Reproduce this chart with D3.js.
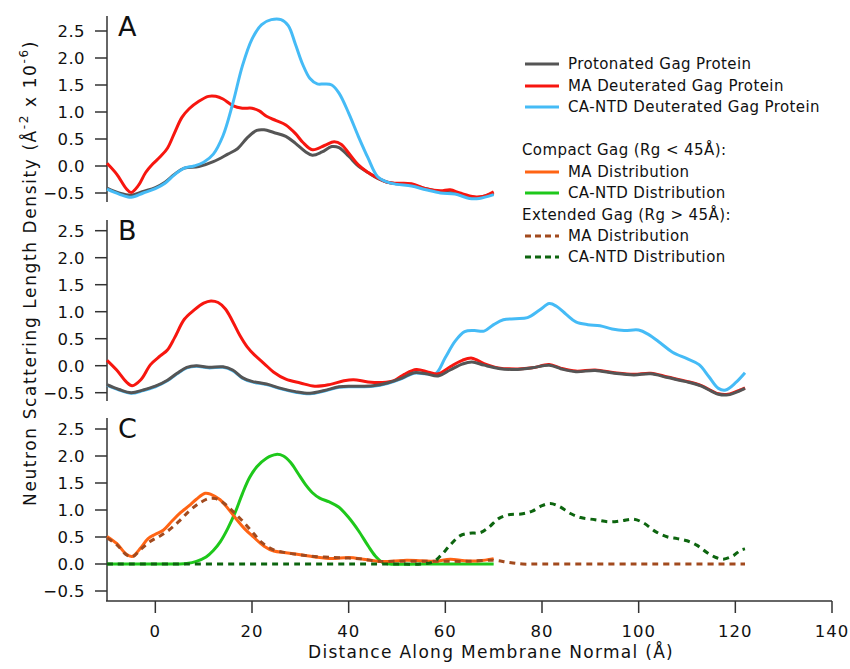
<!DOCTYPE html>
<html>
<head>
<meta charset="utf-8">
<script src="https://cdn.jsdelivr.net/npm/d3@7"></script>
<style>
  body { margin: 0; background: #fff; }
  text { font-family: "DejaVu Sans", sans-serif; fill: #111; }
</style>
</head>
<body>
<div id="chart"></div>
<script>
// values: [distance (Å), SLD (Å^-2 x 10^-6)]
var protA = [[-10,-0.41],[-7.5,-0.50],[-5,-0.54],[-2.5,-0.47],[0,-0.40],[2,-0.30],[4,-0.15],[6,-0.04],[9,-0.01],[12,0.08],[15,0.22],[17,0.32],[19,0.52],[21,0.66],[22.5,0.67],[24.5,0.62],[27,0.55],[29,0.42],[31,0.27],[32.5,0.20],[34.5,0.26],[36.5,0.36],[38,0.34],[40,0.18],[42,0.0],[44,-0.12],[46,-0.23],[48,-0.30],[50,-0.33],[53,-0.35],[56,-0.42],[59,-0.48],[62,-0.50],[65,-0.57],[67,-0.58],[70,-0.50]];
var maA = [[-10,0.05],[-8,-0.15],[-6,-0.42],[-5,-0.49],[-3.5,-0.36],[-2,-0.12],[-0.5,0.04],[1,0.17],[2.5,0.33],[4,0.62],[5.5,0.90],[7,1.06],[9,1.20],[11,1.29],[12.5,1.29],[14,1.24],[16,1.12],[18,1.07],[20,1.07],[21.5,1.02],[23,0.92],[25,0.84],[27,0.76],[29,0.60],[30.5,0.44],[32.5,0.30],[35,0.38],[37,0.45],[38.5,0.40],[40,0.24],[42,0.02],[44,-0.12],[46,-0.22],[48,-0.30],[50,-0.32],[53,-0.33],[56,-0.42],[59,-0.46],[61,-0.44],[63,-0.50],[66,-0.57],[68,-0.56],[70,-0.48]];
var caA = [[-10,-0.43],[-7.5,-0.52],[-5,-0.58],[-2.5,-0.50],[0,-0.42],[2,-0.32],[4,-0.16],[6,-0.04],[8,0.0],[10,0.07],[12,0.22],[14,0.56],[16,1.15],[18,1.85],[20,2.35],[22,2.62],[24,2.71],[26,2.71],[27.5,2.60],[29,2.25],[30.5,1.88],[32,1.62],[33.5,1.52],[35,1.52],[36.5,1.50],[38,1.35],[40,0.98],[42,0.55],[44,0.15],[46,-0.20],[48,-0.30],[50,-0.34],[53,-0.37],[56,-0.44],[59,-0.50],[62,-0.52],[65,-0.60],[67,-0.60],[70,-0.53]];

var protB = [[-10,-0.35],[-7.5,-0.44],[-5,-0.50],[-2.5,-0.45],[0,-0.38],[2.5,-0.27],[4.5,-0.14],[6.5,-0.03],[8.5,0.0],[11,-0.03],[14,-0.02],[16,-0.08],[18,-0.22],[20,-0.29],[23,-0.34],[26,-0.42],[29,-0.48],[32,-0.51],[35,-0.46],[38,-0.39],[41,-0.38],[45,-0.37],[48,-0.32],[51,-0.23],[53.5,-0.13],[56,-0.15],[58.5,-0.19],[61,-0.08],[63.5,0.03],[65.5,0.07],[68,0.01],[71,-0.05],[75,-0.07],[78,-0.04],[81.5,0.01],[84,-0.06],[87,-0.11],[91,-0.09],[95,-0.14],[99,-0.17],[102.5,-0.15],[106,-0.22],[110,-0.30],[113,-0.38],[116.5,-0.53],[118.5,-0.54],[121,-0.46],[122,-0.42]];
var maB = [[-10,0.10],[-8,-0.08],[-6,-0.30],[-4.8,-0.37],[-3,-0.26],[-1,0.02],[1,0.18],[2.5,0.29],[4,0.52],[6,0.86],[8,1.03],[10,1.16],[11.5,1.20],[13,1.17],[14.5,1.05],[16,0.82],[17.5,0.56],[19,0.35],[20.5,0.20],[22.5,0.04],[24.5,-0.12],[27,-0.25],[30,-0.32],[33,-0.38],[36,-0.35],[39,-0.28],[41,-0.26],[44,-0.30],[47,-0.31],[49.5,-0.27],[51.5,-0.16],[54,-0.07],[56.5,-0.12],[58.5,-0.15],[61,-0.02],[63.5,0.10],[65.5,0.14],[68,0.04],[71,-0.04],[75,-0.06],[78,-0.04],[81.5,0.02],[84,-0.05],[87,-0.10],[91,-0.08],[95,-0.13],[99,-0.16],[102.5,-0.14],[106,-0.21],[110,-0.29],[113,-0.37],[116.5,-0.52],[118.5,-0.53],[121,-0.45],[122,-0.41]];
var caB = [[-10,-0.36],[-7.5,-0.45],[-5,-0.51],[-2.5,-0.46],[0,-0.39],[2.5,-0.28],[4.5,-0.15],[6.5,-0.04],[8.5,-0.01],[11,-0.04],[14,-0.03],[16,-0.09],[18,-0.23],[20,-0.30],[23,-0.35],[26,-0.43],[29,-0.49],[32,-0.52],[35,-0.47],[38,-0.40],[41,-0.39],[45,-0.38],[48,-0.33],[51,-0.24],[53.5,-0.14],[56,-0.15],[58,-0.15],[60,0.15],[62,0.45],[64,0.63],[66,0.65],[68,0.64],[70,0.76],[72,0.85],[74.5,0.87],[77,0.89],[79.5,1.03],[81.5,1.15],[83,1.10],[85,0.95],[87,0.81],[89.5,0.76],[92,0.74],[94.5,0.68],[97,0.65],[100,0.66],[102,0.58],[104.5,0.42],[107,0.25],[110,0.13],[112.5,0.02],[114.5,-0.20],[116.5,-0.42],[118,-0.45],[120,-0.32],[122,-0.13]];

var maCompact = [[-10,0.51],[-8,0.38],[-6,0.18],[-4.8,0.14],[-3,0.30],[-1.5,0.47],[0,0.55],[1.7,0.63],[3.5,0.80],[5.2,0.95],[7,1.08],[8.5,1.20],[10.3,1.31],[11.5,1.29],[13.4,1.19],[15,1.03],[16.5,0.86],[18.5,0.65],[20.3,0.50],[22.5,0.33],[24.5,0.24],[27,0.21],[30,0.17],[33,0.13],[36.5,0.10],[40,0.12],[43,0.09],[46,0.05],[49,0.05],[52,0.07],[55,0.06],[58,0.05],[61,0.09],[64,0.06],[67,0.06],[70,0.10]];
var caCompact = [[-10,0],[0,0],[5,0],[6.5,0.01],[8.5,0.05],[10.5,0.13],[12,0.25],[13.5,0.42],[15,0.66],[16.5,0.95],[18,1.30],[19.5,1.60],[21,1.80],[23,1.96],[25,2.03],[26.5,2.00],[28,1.88],[29.5,1.68],[31,1.48],[32.5,1.32],[34,1.22],[36,1.15],[38,1.05],[40,0.86],[42,0.62],[44,0.34],[45.5,0.15],[47,0.03],[48.5,0],[55,0],[70,0]];
var maExtended = [[-10,0.48],[-8,0.36],[-6,0.17],[-4.8,0.13],[-3,0.27],[-1,0.42],[1,0.52],[3,0.64],[5,0.80],[7,0.98],[9,1.12],[11,1.21],[12.5,1.21],[14,1.14],[16,0.98],[18,0.80],[20,0.60],[22,0.40],[24.5,0.26],[27,0.21],[30,0.17],[33,0.14],[37,0.12],[40,0.11],[43,0.09],[46,0.05],[50,0.05],[55,0.05],[60,0.05],[65,0.05],[70,0.07],[73,0.03],[76,0.0],[80,0],[100,0],[122,0]];
var caExtended = [[-10,0],[30,0],[50,0],[55,0],[57.5,0.04],[59,0.15],[61,0.35],[63,0.52],[65,0.57],[67.2,0.58],[69,0.68],[71,0.84],[73,0.91],[76,0.93],[78,0.98],[80,1.08],[81.7,1.12],[83.5,1.07],[86,0.93],[88,0.86],[91,0.82],[94,0.78],[96.5,0.80],[99,0.83],[101,0.76],[103.5,0.60],[106,0.50],[108,0.47],[110,0.43],[112,0.35],[114,0.22],[116,0.12],[117.5,0.09],[119.5,0.15],[121,0.25],[122,0.28]];

var xTicks = [0, 20, 40, 60, 80, 100, 120, 140];
var yTicks = [-0.5, 0.0, 0.5, 1.0, 1.5, 2.0, 2.5];
var panelLabels = ["A", "B", "C"];

var width = 850, height = 669;
var svg = d3.select("#chart").append("svg")
    .attr("width", width)
    .attr("height", height);

var x = d3.scaleLinear().domain([-10, 140]).range([107, 832]);

// zero line pixel and axis extent per panel
var panels = [
    {zero: 166, top: 16, bottom: 202},
    {zero: 365.7, top: 220, bottom: 401},
    {zero: 564, top: 418, bottom: 601}
];
panels.forEach(function(p) {
    p.y = d3.scaleLinear().domain([0, 2.5]).range([p.zero, p.zero - 135]);
});

var colors = {
    prot: "#555555",
    ma: "#f7160f",
    ca: "#45bbf6",
    maC: "#ff6414",
    caC: "#1ec81b",
    maE: "#a24a1e",
    caE: "#0d650f"
};

function drawLine(p, data, color, dashed) {
    var line = d3.line()
        .x(function(d) { return x(d[0]); })
        .y(function(d) { return p.y(d[1]); })
        .curve(d3.curveCatmullRom.alpha(0.5));
    svg.append("path")
        .datum(data)
        .attr("d", line)
        .attr("fill", "none")
        .attr("stroke", color)
        .attr("stroke-width", 3)
        .attr("stroke-linejoin", "round")
        .attr("stroke-dasharray", dashed ? "6,5" : null);
}

// y axes
panels.forEach(function(p, i) {
    var g = svg.append("g").attr("transform", "translate(107,0)");
    g.append("line")
        .attr("y1", p.top).attr("y2", p.bottom)
        .attr("stroke", "#333").attr("stroke-width", 1.5);
    g.selectAll(".tick")
        .data(yTicks)
        .enter()
        .append("line")
        .attr("x1", -12).attr("x2", 0)
        .attr("y1", function(d) { return p.y(d); })
        .attr("y2", function(d) { return p.y(d); })
        .attr("stroke", "#333").attr("stroke-width", 1.5);
    g.selectAll(".lbl")
        .data(yTicks)
        .enter()
        .append("text")
        .attr("x", -22)
        .attr("y", function(d) { return p.y(d); })
        .attr("dy", "0.36em")
        .attr("text-anchor", "end")
        .style("font-size", "16.5px")
        .style("letter-spacing", "0.4px")
        .text(function(d) { return d3.format(".1f")(d); });
    svg.append("text")
        .attr("x", 118)
        .attr("y", p.top + 20)
        .style("font-size", "27px")
        .text(panelLabels[i]);
});

// x axis on bottom panel only
var xAxisY = panels[2].bottom;
svg.append("line")
    .attr("x1", 106).attr("x2", 832)
    .attr("y1", xAxisY).attr("y2", xAxisY)
    .attr("stroke", "#333").attr("stroke-width", 1.5);
svg.selectAll(".xtick")
    .data(xTicks)
    .enter()
    .append("line")
    .attr("x1", function(d) { return x(d); })
    .attr("x2", function(d) { return x(d); })
    .attr("y1", xAxisY).attr("y2", xAxisY + 12)
    .attr("stroke", "#333").attr("stroke-width", 1.5);
svg.selectAll(".xlbl")
    .data(xTicks)
    .enter()
    .append("text")
    .attr("x", function(d) { return x(d); })
    .attr("y", 637)
    .attr("text-anchor", "middle")
    .style("font-size", "16.5px")
    .style("letter-spacing", "1px")
    .text(function(d) { return d; });

svg.append("text")
    .attr("x", 491)
    .attr("y", 658)
    .attr("text-anchor", "middle")
    .style("font-size", "17px")
    .style("letter-spacing", "1.3px")
    .text("Distance Along Membrane Normal (Å)");

var yTitle = svg.append("text")
    .attr("transform", "translate(36,273) rotate(-90)")
    .attr("text-anchor", "middle")
    .style("font-size", "17px")
    .style("letter-spacing", "1.6px");
yTitle.append("tspan").text("Neutron Scattering Length Density (Å");
yTitle.append("tspan").attr("dy", -8).style("font-size", "12px").text("-2");
yTitle.append("tspan").attr("dy", 8).text(" x 10");
yTitle.append("tspan").attr("dy", -8).style("font-size", "12px").text("-6");
yTitle.append("tspan").attr("dy", 8).text(")");

// curves
drawLine(panels[0], protA, colors.prot);
drawLine(panels[0], maA, colors.ma);
drawLine(panels[0], caA, colors.ca);

drawLine(panels[1], caB, colors.ca);
drawLine(panels[1], maB, colors.ma);
drawLine(panels[1], protB, colors.prot);

drawLine(panels[2], caCompact, colors.caC);
drawLine(panels[2], maCompact, colors.maC);
drawLine(panels[2], maExtended, colors.maE, true);
drawLine(panels[2], caExtended, colors.caE, true);

// legend
var legendItems = [
    {label: "Protonated Gag Protein", color: colors.prot, y: 64},
    {label: "MA Deuterated Gag Protein", color: colors.ma, y: 86},
    {label: "CA-NTD Deuterated Gag Protein", color: colors.ca, y: 107},
    {header: "Compact Gag (Rg < 45Å):", y: 150},
    {label: "MA Distribution", color: colors.maC, y: 172},
    {label: "CA-NTD Distribution", color: colors.caC, y: 193},
    {header: "Extended Gag (Rg > 45Å):", y: 215},
    {label: "MA Distribution", color: colors.maE, y: 236, dashed: true},
    {label: "CA-NTD Distribution", color: colors.caE, y: 257, dashed: true}
];
var legend = svg.append("g");
legendItems.forEach(function(d) {
    if (d.header) {
        legend.append("text")
            .attr("x", 522).attr("y", d.y).attr("dy", "0.36em")
            .style("font-size", "15px")
            .style("letter-spacing", "0.4px")
            .text(d.header);
        return;
    }
    legend.append("line")
        .attr("x1", 525).attr("x2", 559)
        .attr("y1", d.y).attr("y2", d.y)
        .attr("stroke", d.color).attr("stroke-width", 3)
        .attr("stroke-dasharray", d.dashed ? "6,4" : null);
    legend.append("text")
        .attr("x", 568).attr("y", d.y).attr("dy", "0.36em")
        .style("font-size", "15px")
        .style("letter-spacing", "0.4px")
        .text(d.label);
});
</script>
</body>
</html>
